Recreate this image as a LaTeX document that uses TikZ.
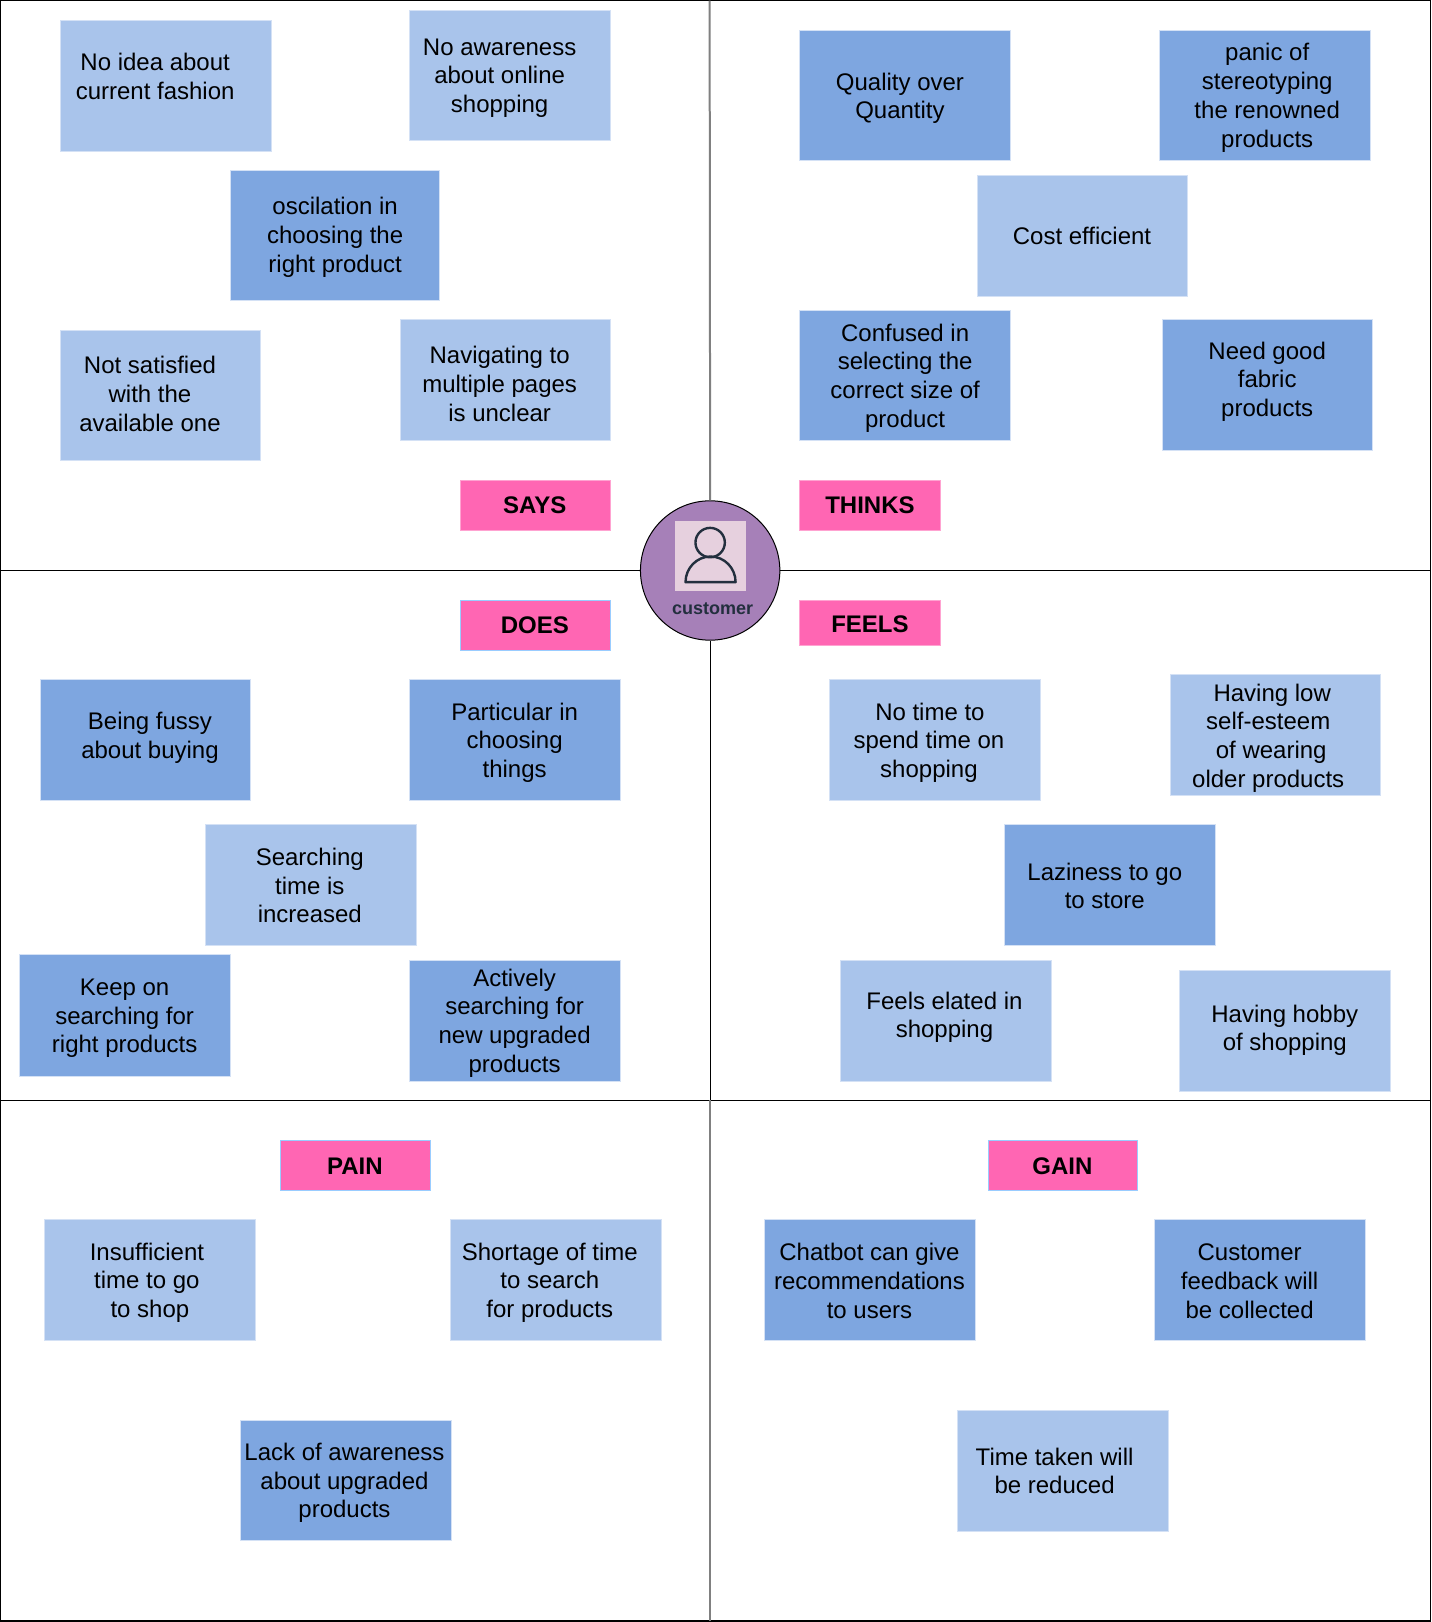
\documentclass[tikz,border=0pt]{standalone}
\usepackage{fontspec}
\setmainfont{Liberation Sans}
\usetikzlibrary{positioning}
\definecolor{lite}{HTML}{A9C4EB}
\definecolor{deep}{HTML}{7EA6E0}
\definecolor{rim}{HTML}{D4E1F5}
\definecolor{pink}{HTML}{FF66B3}
\definecolor{plum}{HTML}{A680B8}
\definecolor{pale}{HTML}{E6D0DE}
\definecolor{ink}{HTML}{232F3E}
\definecolor{sky}{HTML}{99CCFF}

\begin{document}
\begin{tikzpicture}[x=0.5173pt,y=-0.5173pt,
  note/.style={fill=#1,draw=rim,line width=0.3pt},
  tag/.style={fill=pink,draw=#1,line width=0.4pt},
  tag/.default=pink!60,
  txt/.style={align=center,inner sep=0pt,font=\fontsize{12}{14.4}\selectfont},
  head/.style={inner sep=0pt,font=\fontsize{12}{14.4}\selectfont\bfseries},
  rule/.style={line width=0.55pt}]
\useasboundingbox (0,0) rectangle (1384,1568);
\coordinate (nw) at (0.5,0.5);
\coordinate (se) at (1383,1567);
\coordinate (top) at (686,0.5);
\coordinate (midl) at (0.5,551.5);
\coordinate (midr) at (1383,551.5);
\coordinate (lowl) at (0.5,1063.5);
\coordinate (lowm) at (687,1063.5);
\coordinate (lowr) at (1383,1063.5);
\coordinate (base) at (686,1567);
\node[circle,draw=black,fill=plum,line width=0.5pt,minimum size=69.7pt,inner sep=0pt] (cust) at (686.5,551.5) {};
% frame and quadrants
\draw[rule] (nw) rectangle (se);
\draw[gray,line width=1pt] (top) -- (cust.north);
\draw[rule] (midl) -- (cust.west);
\draw[rule] (cust.east) -- (midr);
\draw[rule] (cust.south -| lowm) -- (lowm);
\draw[rule] (lowl) -- (lowr);
\draw[gray,line width=1pt] (lowm -| base) -- (base);
% customer
\fill[pale] (652.7,503.2) rectangle (720.8,571);
\draw[ink,line width=1.2pt] (686.5,524.5) circle (14.2);
\draw[ink,line width=1.2pt,line join=round] (662.7,562.8) arc[start angle=180,end angle=360,x radius=24.2,y radius=24.8] -- cycle;
\node[inner sep=0pt,text=ink,font=\fontsize{9}{11}\selectfont\bfseries] (custname) at (689,588.2) {customer};
% says
\draw[note=lite] (58,20) rectangle (262,146);
\node[txt] (idea) at (150,73.5) {No idea about\\current fashion};
\draw[note=lite] (396,10) rectangle (590,136);
\node[txt] (online) at (483,75.5) {No awareness\\about online\\shopping};
\draw[note=deep] (223,165) rectangle (425,290);
\node[txt] (oscil) at (324,229.5) {oscilation in\\choosing the\\right product};
\draw[note=lite] (58,319) rectangle (252,445);
\node[txt] (notsat) at (145,381) {Not satisfied\\with the\\available one};
\draw[note=lite] (387,309) rectangle (590,426);
\node[txt] (pages) at (483,371) {Navigating to\\multiple pages\\is unclear};
\draw[tag] (445,464) rectangle (590,513);
\node[head] (says) at (517,488.5) {SAYS};
% thinks
\draw[note=deep] (773,29) rectangle (977,155);
\node[txt] (quality) at (870,95) {Quality over\\Quantity};
\draw[note=deep] (1121,29) rectangle (1325,155);
\node[txt] (panic) at (1225,94.5) {panic of\\stereotyping\\the renowned\\products};
\draw[note=lite] (945,169) rectangle (1148,286);
\node[txt] (cost) at (1046,228) {Cost efficient};
\draw[note=deep] (773,300) rectangle (977,426);
\node[txt] (confused) at (875,365.5) {Confused in\\selecting the\\correct size of\\product};
\draw[note=deep] (1124,309) rectangle (1327,435);
\node[txt] (fabric) at (1225,369) {Need good\\fabric\\products};
\draw[tag] (773,464) rectangle (909,513);
\node[head] (thinks) at (841,488.5) {THINKS};
% does
\draw[tag=sky] (445,580) rectangle (590,629);
\node[head] (does) at (517,604.5) {DOES};
\draw[note=deep] (39,657) rectangle (242,774);
\node[txt] (fussy) at (145,713.5) {Being fussy\\about buying};
\draw[note=deep] (396,657) rectangle (600,774);
\node[txt] (partic) at (497.5,718) {Particular in\\choosing\\things};
\draw[note=lite] (198,797) rectangle (402,914);
\node[txt] (search) at (299.5,856) {Searching\\time is\\increased};
\draw[note=deep] (19,923) rectangle (223,1040);
\node[txt] (keepon) at (120.5,984.5) {Keep on\\searching for\\right products};
\draw[note=deep] (396,928) rectangle (600,1045);
\node[txt] (active) at (497.5,989) {Actively\\searching for\\new upgraded\\products};
% feels
\draw[tag] (773,580) rectangle (909,624);
\node[head] (feels) at (841,603.5) {FEELS};
\draw[note=lite] (802,657) rectangle (1006,774);
\node[txt] (notime) at (898,718) {\hspace*{1pt}No time to\\spend time on\hspace*{3pt}\\shopping};
\draw[note=lite] (1131,652) rectangle (1334,769);
\node[txt] (esteem) at (1226,713.5) {\hspace*{4pt}Having low\\self-esteem\\\hspace*{3pt}of wearing\\older products};
\draw[note=deep] (971,797) rectangle (1175,914);
\node[txt] (lazy) at (1068,856.5) {Laziness to go\\to store};
\draw[note=lite] (812,928) rectangle (1016,1045);
\node[txt] (elated) at (913,983.5) {Feels elated in\\shopping};
\draw[note=lite] (1140,938) rectangle (1344,1055);
\node[txt] (hobby) at (1242,996) {Having hobby\\of shopping};
% pain
\draw[tag=sky] (271,1102) rectangle (416,1151);
\node[head] (pain) at (343,1127.5) {PAIN};
\draw[note=lite] (43,1179) rectangle (247,1296);
\node[txt] (insuff) at (142,1240) {Insufficient\\time to go\\\hspace*{3pt}to shop};
\draw[note=lite] (435,1179) rectangle (639,1296);
\node[txt] (short) at (531.5,1240) {Shortage of time\\to search\\for products};
\draw[note=deep] (232,1373) rectangle (436,1489);
\node[txt] (lack) at (333,1433.5) {Lack of awareness\\about upgraded\\products};
% gain
\draw[tag=sky] (955,1102) rectangle (1100,1151);
\node[head] (gain) at (1027,1127.5) {GAIN};
\draw[note=deep] (739,1179) rectangle (943,1296);
\node[txt] (chatbot) at (840.5,1238) {Chatbot can give\\recommendations\\to users};
\draw[note=deep] (1116,1179) rectangle (1320,1296);
\node[txt] (feedback) at (1208,1238.5) {Customer\\feedback will\\be collected};
\draw[note=lite] (925,1363) rectangle (1129,1480);
\node[txt] (taken) at (1019.5,1422) {Time taken will\\be reduced};
\end{tikzpicture}
\end{document}
